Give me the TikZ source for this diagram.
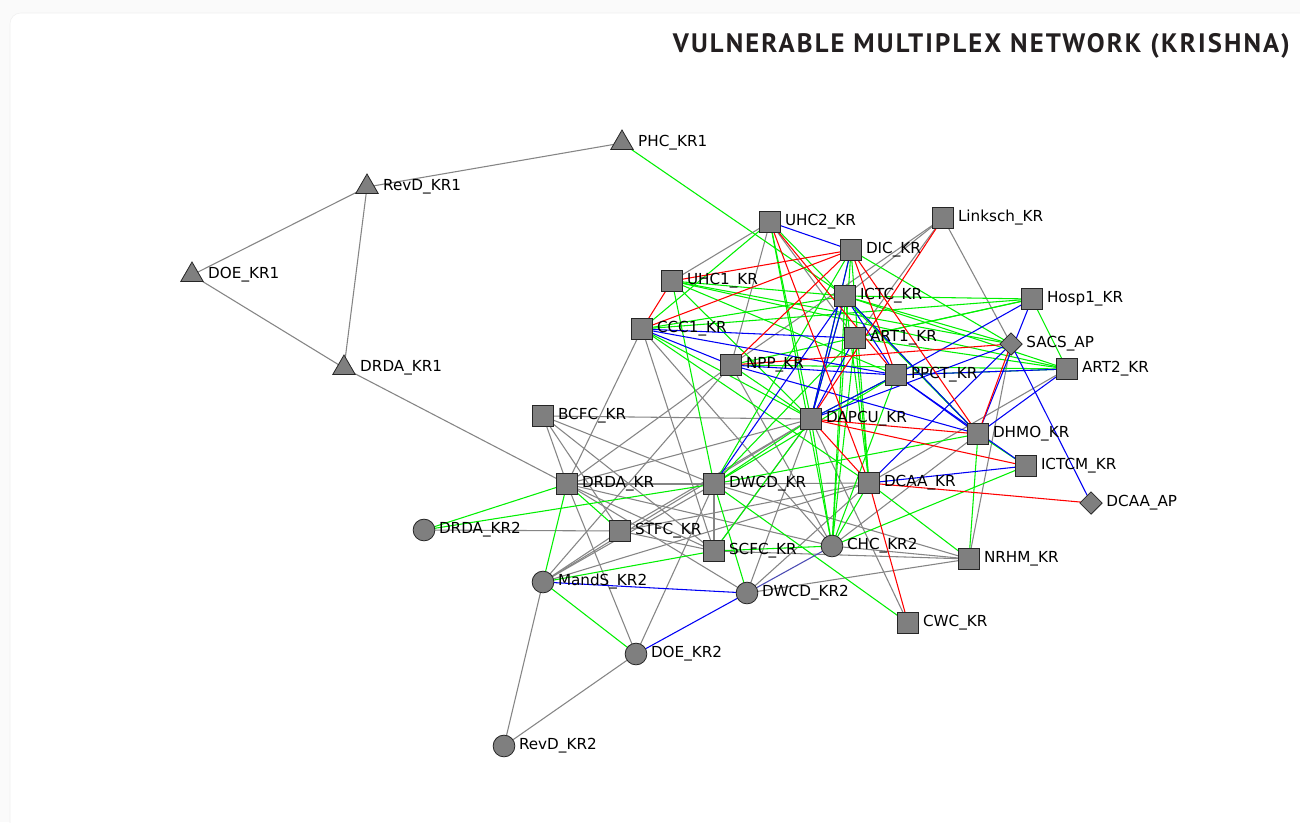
\documentclass[tikz,border=0pt]{standalone}
\usepackage{fontspec}
\setmainfont{DejaVu Sans}
\newfontfamily\titlefont[LetterSpace=8]{PT Sans}
\usetikzlibrary{shapes.geometric}
\pgfdeclarelayer{paper}
\pgfdeclarelayer{edges}
\pgfsetlayers{paper,edges,main}
\definecolor{nodegray}{HTML}{7F7F7F}
\definecolor{edgegray}{HTML}{858585}
\definecolor{edgegreen}{HTML}{00F000}
\definecolor{edgeblue}{HTML}{0000F5}
\definecolor{edgered}{HTML}{FF0000}
\definecolor{titleink}{HTML}{231F20}
\tikzset{
  x=0.75pt, y=-0.75pt,
  base/.style={draw=black!85, fill=nodegray, inner sep=0pt, line width=0.6pt},
  sq/.style={base, rectangle, minimum size=16.3pt},
  ci/.style={base, circle, minimum size=16.3pt},
  tri/.style={base, regular polygon, regular polygon sides=3, minimum size=19.5pt},
  dia/.style={base, diamond, minimum width=17pt, minimum height=17pt},
  lbl/.style={font=\fontsize{11.4}{12}\selectfont, text=black, inner sep=0pt, label distance=2.6pt},
  lbltri/.style={lbl, label distance=6pt},
  eg/.style={edgegray, line width=0.8pt},
  eG/.style={edgegreen, line width=0.8pt},
  eB/.style={edgeblue, line width=0.8pt},
  eR/.style={edgered, line width=0.8pt},
}
\begin{document}
\begin{tikzpicture}
\useasboundingbox (0,0) rectangle (1300,822);
% page and card
\begin{pgfonlayer}{paper}
\fill[black!2] (0,0) rectangle (1300,822);
\draw[black!6, fill=white, rounded corners=8pt] (10,13) rectangle (1330,850);
\end{pgfonlayer}

\node[titleink, anchor=east, inner sep=0pt, font=\titlefont\bfseries\fontsize{20}{22}\selectfont] (title) at (1290,46) {VULNERABLE MULTIPLEX NETWORK (KRISHNA)};

% first-level triangles
\node[tri, label={[lbltri]0:PHC\_KR1}] (phc) at (622,143) {};
\node[tri, label={[lbltri]0:RevD\_KR1}] (revda) at (367,187) {};
\node[tri, label={[lbltri]0:DOE\_KR1}] (doea) at (192,275) {};
\node[tri, label={[lbltri]0:DRDA\_KR1}] (drdaa) at (344,368) {};
% square agencies
\node[sq, label={[lbl]0:UHC2\_KR}] (uhc2) at (770,222) {};
\node[sq, label={[lbl]0:DIC\_KR}] (dic) at (851,250) {};
\node[sq, label={[lbl]0:Linksch\_KR}] (linksch) at (943,218) {};
\node[sq, label={[lbl]0:UHC1\_KR}] (uhc1) at (672,281) {};
\node[sq, label={[lbl]0:ICTC\_KR}] (ictc) at (845,296) {};
\node[sq, label={[lbl]0:Hosp1\_KR}] (hosp1) at (1032,299) {};
\node[sq, label={[lbl]0:CCC1\_KR}] (ccc1) at (642,329) {};
\node[sq, label={[lbl]0:ART1\_KR}] (art1) at (855,338) {};
\node[sq, label={[lbl]0:NPP\_KR}] (npp) at (731,365) {};
\node[sq, label={[lbl]0:PPCT\_KR}] (ppct) at (896,375) {};
\node[sq, label={[lbl]0:ART2\_KR}] (art2) at (1067,369) {};
\node[sq, label={[lbl]0:BCFC\_KR}] (bcfc) at (543,416) {};
\node[sq, label={[lbl]0:DAPCU\_KR}] (dapcu) at (811,419) {};
\node[sq, label={[lbl]0:DHMO\_KR}] (dhmo) at (978,434) {};
\node[sq, label={[lbl]0:ICTCM\_KR}] (ictcm) at (1026,466) {};
\node[sq, label={[lbl]0:DRDA\_KR}] (drda) at (567,484) {};
\node[sq, label={[lbl]0:DWCD\_KR}] (dwcd) at (714,484) {};
\node[sq, label={[lbl]0:DCAA\_KR}] (dcaa) at (869,483) {};
\node[sq, label={[lbl]0:STFC\_KR}] (stfc) at (620,531) {};
\node[sq, label={[lbl]0:SCFC\_KR}] (scfc) at (714,551) {};
\node[sq, label={[lbl]0:NRHM\_KR}] (nrhm) at (969,559) {};
\node[sq, label={[lbl]0:CWC\_KR}] (cwc) at (908,623) {};
% state-level diamonds
\node[dia, label={[lbl]0:SACS\_AP}] (sacs) at (1011,344) {};
\node[dia, label={[lbl]0:DCAA\_AP}] (dcaaap) at (1091,503) {};
% second-level circles
\node[ci, label={[lbl]0:DRDA\_KR2}] (drda2) at (424,530) {};
\node[ci, label={[lbl]0:CHC\_KR2}] (chc) at (832,546) {};
\node[ci, label={[lbl]0:MandS\_KR2}] (mands) at (543,582) {};
\node[ci, label={[lbl]0:DWCD\_KR2}] (dwcd2) at (747,593) {};
\node[ci, label={[lbl]0:DOE\_KR2}] (doe2) at (636,654) {};
\node[ci, label={[lbl]0:RevD\_KR2}] (revd2) at (504,746) {};

\begin{pgfonlayer}{edges}
% grey layer
\foreach \a/\b in {doea/revda, doea/drdaa, revda/drdaa, revda/phc, drdaa/drda,
  uhc2/uhc1, uhc2/npp, uhc2/art1, linksch/ictc, linksch/npp, linksch/sacs, linksch/art1,
  ccc1/drda, ccc1/chc, ccc1/scfc, npp/drda, npp/chc, mands/npp,
  bcfc/dapcu, bcfc/drda, bcfc/dwcd, bcfc/stfc, bcfc/scfc,
  drda/dwcd, drda/dapcu, drda/scfc, drda/doe2, drda/chc, drda/dwcd2,
  drda2/stfc, stfc/scfc, stfc/mands, stfc/dapcu, stfc/dcaa,
  scfc/dwcd, scfc/dapcu, scfc/nrhm, mands/revd2, doe2/revd2, mands/dwcd, mands/dcaa,
  doe2/dwcd, dwcd2/dapcu, dwcd2/nrhm, chc/nrhm, dwcd/dcaa, dwcd/nrhm,
  dapcu/cwc, dapcu/mands, art2/dcaa, sacs/nrhm, dhmo/chc, dcaa/dwcd2}
  \draw[eg] (\a.center) -- (\b.center);
% green layer
\foreach \a/\b in {phc/ictc, uhc2/ccc1, uhc2/dapcu, uhc2/chc, uhc2/dhmo,
  uhc1/ictc, uhc1/sacs, uhc1/ppct, uhc1/dapcu, uhc1/dwcd, uhc1/art2,
  ccc1/ictc, ccc1/dapcu, ccc1/dcaa, ccc1/hosp1,
  ictc/hosp1, ictc/sacs, ictc/art2, ictc/dapcu, ictc/dcaa, ictc/chc, ictc/dhmo,
  dic/sacs, dic/dapcu, dic/chc, dic/dcaa, dic/dwcd,
  art1/art2, art1/chc, art1/dwcd, art1/hosp1, art1/dcaa,
  hosp1/art2, hosp1/npp, ppct/art2, ppct/chc, ppct/dwcd, ppct/dapcu,
  npp/dapcu, npp/art2, dapcu/dwcd, dapcu/chc, dapcu/scfc,
  dhmo/nrhm, dhmo/dwcd, dhmo/ictcm, ictcm/chc, dcaa/nrhm, dcaa/chc,
  dwcd/drda2, dwcd/dwcd2, dwcd/cwc, drda/stfc, drda/mands, drda/drda2,
  scfc/mands, scfc/chc, mands/doe2}
  \draw[eG] (\a.center) -- (\b.center);
% blue layer
\foreach \a/\b in {uhc2/dic, ccc1/art1, ccc1/ppct, ccc1/npp, npp/ppct, npp/dhmo,
  ictc/dapcu, ictc/ppct, ictc/dhmo, dic/dapcu, art1/dapcu, ppct/dhmo, ppct/ictcm,
  dapcu/ppct, dapcu/sacs, hosp1/ppct, hosp1/dhmo, sacs/dcaa, sacs/dcaaap,
  art2/dhmo, art2/ppct, dcaa/ictcm, dwcd/ictc, mands/dwcd2, doe2/dwcd2}
  \draw[eB] (\a.center) -- (\b.center);
\draw[eB, edgeblue!60!black!70!white] (dwcd2.center) -- (chc.center);
% red layer
\foreach \a/\b in {uhc1/dic, ccc1/dic, uhc1/ccc1, npp/dic, linksch/dapcu,
  dic/ppct, dic/dhmo, sacs/npp, sacs/dhmo, dapcu/dhmo, dapcu/ictcm,
  dcaa/dcaaap, dcaa/cwc, dapcu/dcaa, uhc2/dcaa, uhc2/ppct}
  \draw[eR] (\a.center) -- (\b.center);
\end{pgfonlayer}
\end{tikzpicture}
\end{document}
